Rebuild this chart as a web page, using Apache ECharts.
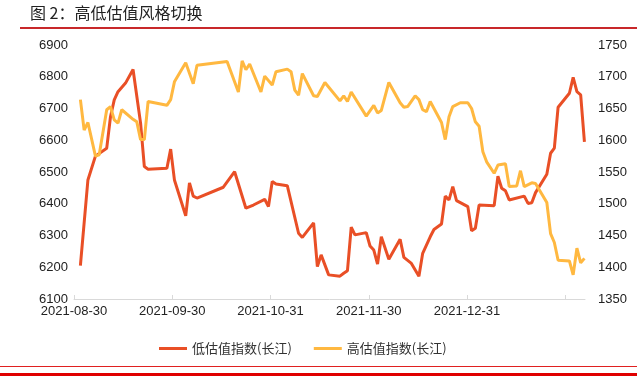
<!DOCTYPE html>
<html><head><meta charset="utf-8">
<script src="https://cdn.jsdelivr.net/npm/echarts@6/dist/echarts.min.js"></script>
<style>html,body{margin:0;padding:0;background:#fff}#c{width:637px;height:379px}</style>
</head><body><div id="c"></div>
<script>
const titleText = '图 2：高低估值风格切换';
const seriesNames = ['低估值指数(长江)', '高估值指数(长江)'];
const tickLabels = ['2021-08-30', '2021-09-30', '2021-10-31', '2021-11-30', '2021-12-31'];

const lowDates = ['2021-08-30','2021-09-01','2021-09-03','2021-09-06','2021-09-07','2021-09-08','2021-09-09','2021-09-11','2021-09-13','2021-09-15','2021-09-16','2021-09-17','2021-09-22','2021-09-23','2021-09-24','2021-09-27','2021-09-28','2021-09-29','2021-09-30','2021-10-07','2021-10-10','2021-10-13','2021-10-15','2021-10-18','2021-10-19','2021-10-20','2021-10-21','2021-10-24','2021-10-27','2021-10-28','2021-10-31','2021-11-01','2021-11-02','2021-11-04','2021-11-07','2021-11-08','2021-11-09','2021-11-10','2021-11-11','2021-11-14','2021-11-15','2021-11-16','2021-11-17','2021-11-18','2021-11-20','2021-11-23','2021-11-24','2021-11-26','2021-11-28','2021-11-29','2021-12-01','2021-12-02','2021-12-04','2021-12-05','2021-12-06','2021-12-07','2021-12-08','2021-12-11','2021-12-12','2021-12-13','2021-12-14','2021-12-18','2021-12-19','2021-12-20','2021-12-21','2021-12-22','2021-12-26','2021-12-27','2021-12-28','2021-12-29','2022-01-01','2022-01-02','2022-01-03','2022-01-04','2022-01-07','2022-01-08','2022-01-09','2022-01-10','2022-01-11'];
const lowValues = [6205,6475,6550,6575,6674,6727,6753,6780,6823,6654,6517,6509,6512,6572,6475,6362,6466,6424,6418,6452,6501,6386,6396,6414,6391,6470,6462,6457,6307,6294,6340,6202,6239,6176,6172,6181,6189,6326,6302,6309,6267,6254,6210,6296,6225,6288,6231,6212,6172,6244,6296,6319,6336,6424,6412,6454,6410,6391,6315,6323,6396,6394,6487,6449,6441,6412,6424,6401,6403,6435,6493,6559,6575,6704,6748,6798,6753,6743,6595];

const highDates = ['2021-08-30','2021-08-31','2021-09-01','2021-09-03','2021-09-04','2021-09-06','2021-09-07','2021-09-08','2021-09-09','2021-09-10','2021-09-13','2021-09-14','2021-09-15','2021-09-16','2021-09-17','2021-09-22','2021-09-23','2021-09-24','2021-09-27','2021-09-29','2021-09-30','2021-10-08','2021-10-11','2021-10-12','2021-10-13','2021-10-14','2021-10-17','2021-10-18','2021-10-20','2021-10-21','2021-10-24','2021-10-25','2021-10-26','2021-10-27','2021-10-28','2021-10-31','2021-11-01','2021-11-03','2021-11-07','2021-11-08','2021-11-09','2021-11-10','2021-11-14','2021-11-16','2021-11-17','2021-11-18','2021-11-20','2021-11-23','2021-11-24','2021-11-25','2021-11-27','2021-11-28','2021-11-29','2021-11-30','2021-12-01','2021-12-04','2021-12-05','2021-12-06','2021-12-07','2021-12-09','2021-12-11','2021-12-12','2021-12-13','2021-12-14','2021-12-15','2021-12-16','2021-12-18','2021-12-19','2021-12-21','2021-12-22','2021-12-24','2021-12-25','2021-12-26','2021-12-28','2021-12-29','2022-01-01','2022-01-02','2022-01-03','2022-01-04','2022-01-07','2022-01-08','2022-01-09','2022-01-10','2022-01-11'];
const highValues = [1664,1616,1628,1575,1577,1648,1653,1632,1627,1648,1633,1629,1601,1601,1661,1655,1664,1692,1722,1689,1718,1724,1676,1725,1711,1720,1676,1701,1687,1708,1712,1708,1679,1671,1705,1670,1669,1691,1662,1670,1661,1676,1638,1655,1643,1647,1691,1659,1652,1653,1670,1664,1648,1645,1661,1628,1601,1637,1653,1659,1659,1650,1629,1622,1582,1566,1548,1561,1563,1527,1528,1552,1527,1533,1532,1502,1453,1439,1411,1410,1388,1430,1407,1414];

const base = Date.parse('2021-08-30');
const toDay = d => (Date.parse(d) - base) / 864e5;
const lowData = lowDates.map((d, i) => [toDay(d), lowValues[i]]);
const highData = highDates.map((d, i) => [toDay(d), highValues[i]]);

const RED = '#E94F26';
const YEL = '#FFB840';
const FONT = '"Liberation Sans", Arial, sans-serif';
const CJK = '"Noto Sans CJK SC", sans-serif';

const chart = echarts.init(document.getElementById('c'), null, {renderer: 'canvas'});
chart.setOption({
  animation: false,
  backgroundColor: '#fff',
  grid: {left: 74, right: 52, top: 45, bottom: 80, containLabel: false},
  legend: {
    left: 154, top: 337, itemWidth: 28, itemHeight: 3, itemGap: 22, icon: 'rect',
    textStyle: {fontFamily: CJK, fontSize: 13, color: '#333'},
    data: seriesNames
  },
  graphic: [
    {type: 'text', left: 30, top: 5, style: {text: titleText, font: '16px "Noto Sans CJK SC"', fill: '#222'}},
    {type: 'rect', shape: {x: 20, y: 27, width: 617, height: 2}, style: {fill: '#C8282A'}},
    {type: 'rect', shape: {x: 0, y: 366, width: 637, height: 1}, style: {fill: '#E02020'}},
    {type: 'rect', shape: {x: 0, y: 373, width: 637, height: 3}, style: {fill: '#E00000'}}
  ],
  xAxis: [
    {
      type: 'value', min: 0, max: 5.2, interval: 1,
      axisLine: {show: true, lineStyle: {color: '#D9D9D9', width: 1}},
      axisTick: {show: true, inside: true, length: 4, lineStyle: {color: '#D9D9D9'}},
      splitLine: {show: false},
      axisLabel: {
        margin: 6, fontFamily: FONT, fontSize: 13, color: '#222', showMaxLabel: false,
        formatter: v => (Number.isInteger(v) && tickLabels[v]) ? tickLabels[v] : ''
      }
    },
    {type: 'value', min: -1.7, max: 134.15, show: false}
  ],
  yAxis: [
    {
      type: 'value', min: 6100, max: 6900, interval: 100, position: 'left',
      axisLine: {show: false}, axisTick: {show: false}, splitLine: {show: false},
      axisLabel: {margin: 6, fontFamily: FONT, fontSize: 13, color: '#222', formatter: v => String(v)}
    },
    {
      type: 'value', min: 1350, max: 1750, interval: 50, position: 'right',
      axisLine: {show: false}, axisTick: {show: false}, splitLine: {show: false},
      axisLabel: {margin: 13, fontFamily: FONT, fontSize: 13, color: '#222', formatter: v => String(v)}
    }
  ],
  series: [
    {name: seriesNames[0], type: 'line', xAxisIndex: 1, yAxisIndex: 0, data: lowData,
     showSymbol: false, symbol: 'none', color: RED, lineStyle: {color: RED, width: 3}},
    {name: seriesNames[1], type: 'line', xAxisIndex: 1, yAxisIndex: 1, data: highData,
     showSymbol: false, symbol: 'none', color: YEL, lineStyle: {color: YEL, width: 3}}
  ]
});
</script></body></html>
